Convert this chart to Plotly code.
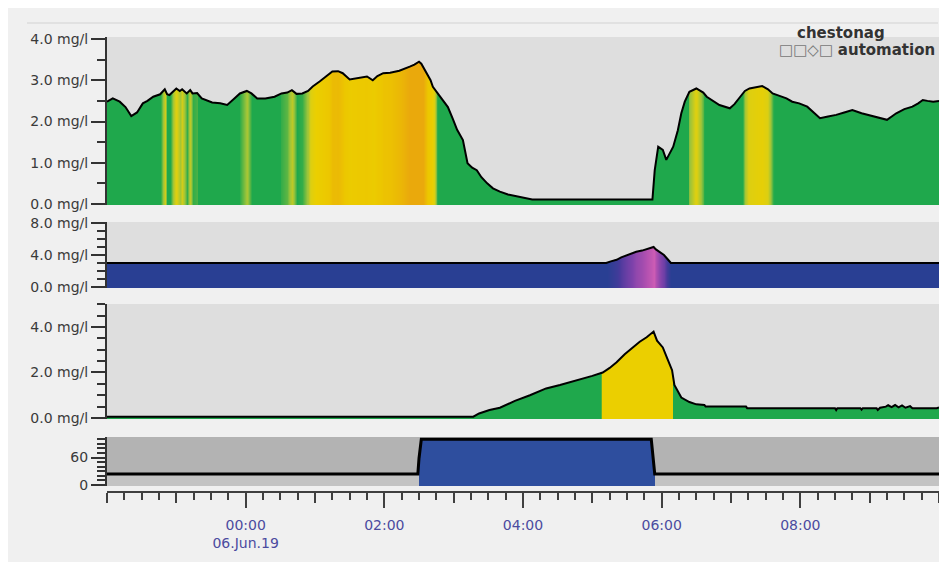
import plotly.graph_objects as go

# ---------------- data ----------------
# Panel 1: mg/l
p1_times = ["22:00", "22:05", "22:11", "22:16", "22:21", "22:26", "22:31", "22:35", "22:40", "22:46",
            "22:50", "22:52", "22:54", "22:58", "23:00", "23:03", "23:05", "23:09", "23:12", "23:14",
            "23:18", "23:22", "23:27", "23:31", "23:38", "23:44", "23:50", "23:55", "00:01", "00:05",
            "00:10", "00:17", "00:25", "00:31", "00:36", "00:40", "00:44", "00:49", "00:54", "00:58",
            "01:04", "01:10", "01:15", "01:20", "01:24", "01:30", "01:37", "01:45", "01:50", "01:54",
            "01:59", "02:05", "02:13", "02:18", "02:22", "02:26", "02:30", "02:32", "02:37", "02:40",
            "02:42", "02:46", "02:50", "02:55", "02:59", "03:03", "03:08", "03:12", "03:16", "03:20",
            "03:24", "03:29", "03:34", "03:40", "03:47", "03:55", "04:01", "04:08", "05:52", "05:54",
            "05:57", "06:01", "06:04", "06:10", "06:14", "06:17", "06:20", "06:24", "06:30", "06:36",
            "06:39", "06:44", "06:50", "06:59", "07:03", "07:08", "07:12", "07:16", "07:22", "07:27",
            "07:32", "07:36", "07:42", "07:48", "07:53", "07:59", "08:06", "08:11", "08:17", "08:24",
            "08:31", "08:38", "08:45", "08:53", "09:03", "09:09", "09:15", "09:20", "09:23", "09:30",
            "09:37", "09:42", "09:46", "09:50", "09:55", "10:00"]
p1_values = [2.48, 2.56, 2.48, 2.35, 2.13, 2.22, 2.44, 2.50, 2.60, 2.66,
             2.78, 2.66, 2.64, 2.76, 2.80, 2.74, 2.78, 2.68, 2.76, 2.68,
             2.69, 2.56, 2.50, 2.46, 2.44, 2.40, 2.55, 2.68, 2.74, 2.68,
             2.56, 2.56, 2.60, 2.68, 2.70, 2.76, 2.67, 2.68, 2.74, 2.85,
             2.97, 3.10, 3.21, 3.22, 3.17, 3.02, 3.06, 3.09, 3.00, 3.10,
             3.17, 3.18, 3.23, 3.28, 3.33, 3.38, 3.45, 3.40, 3.17, 3.00,
             2.84, 2.68, 2.52, 2.35, 2.08, 1.80, 1.55, 0.99, 0.88, 0.82,
             0.65, 0.50, 0.38, 0.30, 0.23, 0.18, 0.14, 0.11, 0.11, 0.82,
             1.39, 1.31, 1.07, 1.39, 1.79, 2.20, 2.48, 2.72, 2.80, 2.70,
             2.60, 2.50, 2.40, 2.32, 2.42, 2.60, 2.74, 2.80, 2.84, 2.86,
             2.78, 2.68, 2.62, 2.56, 2.48, 2.44, 2.36, 2.24, 2.08, 2.12,
             2.16, 2.22, 2.28, 2.20, 2.12, 2.08, 2.04, 2.14, 2.20, 2.30,
             2.36, 2.44, 2.52, 2.50, 2.48, 2.50]

# Panel 2: mg/l
p2_times = ["22:00", "05:12", "05:16", "05:21", "05:25", "05:30", "05:34", "05:38", "05:43", "05:47",
            "05:50", "05:53", "05:55", "05:58", "06:02", "06:05", "06:08", "10:00"]
p2_values = [3.0, 3.0, 3.2, 3.4, 3.7, 4.0, 4.2, 4.4, 4.55, 4.75,
             4.85, 5.0, 4.7, 4.4, 4.0, 3.5, 3.0, 3.0]

# Panel 3: mg/l
p3_times = ["22:00", "03:17", "03:22", "03:31", "03:40", "03:53", "04:06", "04:20", "04:32", "04:43",
            "04:53", "05:00", "05:09", "05:15", "05:21", "05:28", "05:35", "05:41", "05:47", "05:53",
            "05:56", "06:01", "06:05", "06:09", "06:11", "06:17", "06:24", "06:30", "06:37", "06:38",
            "07:13", "07:14", "08:30", "08:31", "08:32", "08:52", "08:53", "08:54", "09:06", "09:07",
            "09:09", "09:14", "09:16", "09:19", "09:22", "09:25", "09:28", "09:31", "09:35", "09:37",
            "09:58", "10:00"]
p3_values = [0.06, 0.06, 0.20, 0.35, 0.45, 0.75, 1.00, 1.30, 1.45, 1.60,
             1.75, 1.85, 2.00, 2.20, 2.45, 2.80, 3.10, 3.35, 3.55, 3.80,
             3.40, 3.10, 2.60, 2.10, 1.45, 0.90, 0.70, 0.60, 0.57, 0.50,
             0.50, 0.43, 0.43, 0.35, 0.43, 0.43, 0.37, 0.43, 0.43, 0.35,
             0.45, 0.50, 0.56, 0.48, 0.57, 0.47, 0.55, 0.45, 0.52, 0.43,
             0.43, 0.46]

# Panel 4: status
p4_times = ["22:00", "02:29", "02:30", "02:32", "05:51", "05:53", "05:54", "10:00"]
p4_values = [24, 24, 58, 100, 100, 55, 24, 24]

# axis ticks
x_range = ["2019-06-05 22:00", "2019-06-06 10:00"]
x_tickvals = ["2019-06-06 00:00", "2019-06-06 02:00", "2019-06-06 04:00",
              "2019-06-06 06:00", "2019-06-06 08:00"]
x_ticktext = ["00:00<br>06.Jun.19", "02:00", "04:00", "06:00", "08:00"]


def ts(hm):
    day = "2019-06-05" if int(hm[:2]) >= 12 else "2019-06-06"
    return f"{day} {hm}"


OFF = 8                      # default page margin of the html body
W, H = 947 - OFF, 562 - OFF  # figure size


def py(p):   # screen pixel row -> paper y
    return 1 - (p - OFF) / H


def pxf(p):  # screen pixel column -> paper x
    return (p - OFF) / W


GREEN = "#1fa84c"
YELLOW = "#ebcf00"
BLUE2 = "#293f93"
BLUE4 = "#2e4e9e"

panels = [
    dict(t=p1_times, v=p1_values, yr=[-0.024, 4.048], dom=(205, 37), bg="#dedede", lw=2,
         zmin=0, zmax=4, dtick=1, minor=0.5, fmt=".1f", suf=" mg/l",
         cs=[[0, GREEN], [2.67 / 4, GREEN], [2.73 / 4, "#9cc43a"], [2.79 / 4, "#dccf12"],
             [2.90 / 4, YELLOW], [3.15 / 4, "#ecc600"], [3.32 / 4, "#eaa90c"], [1, "#eaa90c"]]),
    dict(t=p2_times, v=p2_values, yr=[-0.125, 8.125], dom=(288, 222), bg="#dedede", lw=2,
         zmin=0, zmax=8, dtick=4, minor=1, fmt=".1f", suf=" mg/l",
         cs=[[0, BLUE2], [3.05 / 8, BLUE2], [3.6 / 8, "#4b3a9c"], [4.2 / 8, "#7d42aa"],
             [4.7 / 8, "#b050b0"], [5.0 / 8, "#cc5cb4"], [1, "#cc5cb4"]]),
    dict(t=p3_times, v=p3_values, yr=[-0.044, 5.01], dom=(419, 304), bg="#dedede", lw=2,
         zmin=0, zmax=5, dtick=2, minor=0.5, fmt=".1f", suf=" mg/l",
         cs=[[0, GREEN], [1.97 / 5, GREEN], [1.98 / 5, YELLOW], [1, YELLOW]]),
    dict(t=p4_times, v=p4_values, yr=[-2.2, 105], dom=(486, 437), bg="#b3b3b3", lw=3,
         zmin=0, zmax=100, dtick=60, minor=10, fmt="d", suf="",
         cs=[[0, "#c3c3c3"], [0.5, "#c3c3c3"], [0.51, BLUE4], [1, BLUE4]]),
]

fig = go.Figure()
AX = "#333333"
layout_axes = {}
for i, p in enumerate(panels, start=1):
    yname = "y" if i == 1 else f"y{i}"
    xs = [ts(t) for t in p["t"]]
    fig.add_trace(go.Heatmap(x=xs, y=p["yr"], z=[p["v"], p["v"]], zmin=p["zmin"], zmax=p["zmax"],
                             colorscale=p["cs"], zsmooth="best", showscale=False,
                             xaxis="x", yaxis=yname, hoverinfo="skip"))
    fig.add_trace(go.Scatter(x=xs, y=[p["yr"][1]] * len(xs), mode="lines", line=dict(width=0),
                             xaxis="x", yaxis=yname, hoverinfo="skip", showlegend=False))
    fig.add_trace(go.Scatter(x=xs, y=p["v"], mode="lines", fill="tonexty", fillcolor=p["bg"],
                             line=dict(color="black", width=p["lw"]),
                             xaxis="x", yaxis=yname, showlegend=False))
    key = "yaxis" if i == 1 else f"yaxis{i}"
    layout_axes[key] = dict(
        domain=[py(p["dom"][0]), py(p["dom"][1])], range=p["yr"], anchor="x",
        showline=True, linecolor=AX, linewidth=2, ticks="outside", ticklen=14, tickwidth=2,
        tickcolor=AX, tick0=0, dtick=p["dtick"], tickformat=p["fmt"], ticksuffix=p["suf"],
        tickfont=dict(size=14, color="#3a3a3a", family="DejaVu Sans"),
        minor=dict(ticks="outside", ticklen=8, tickwidth=2, tickcolor=AX, dtick=p["minor"], tick0=0),
        showgrid=False, zeroline=False, fixedrange=True)

# dummy trace so that the hour-tick overlay axis is drawn
fig.add_trace(go.Scatter(x=x_range, y=[None, None], xaxis="x2", yaxis="y4",
                         showlegend=False, hoverinfo="skip"))

xpos = py(492)
fig.update_layout(
    width=W, height=H, template="none",
    margin=dict(l=0, r=0, t=0, b=0),
    paper_bgcolor="#f0f0f0", plot_bgcolor="#dedede",
    font=dict(family="DejaVu Sans", size=14, color="#333"),
    showlegend=False,
    xaxis=dict(type="date", range=x_range, domain=[pxf(107), pxf(939)], anchor="free", position=xpos,
               showline=True, linecolor="#404040", linewidth=2, ticks="outside", ticklen=15,
               tickwidth=2, tickcolor="#404040", tickmode="array", tickvals=x_tickvals,
               ticktext=x_ticktext, ticklabelstandoff=5,
               tickfont=dict(size=14, color="#4b4b9f", family="DejaVu Sans"),
               minor=dict(ticks="outside", ticklen=7, tickwidth=1.5, tickcolor="#404040",
                          dtick=900000, tick0="2019-06-06 00:00", showgrid=False),
               showgrid=False, zeroline=False, fixedrange=True),
    xaxis2=dict(type="date", range=x_range, domain=[pxf(107), pxf(939)], overlaying="x",
                anchor="free", position=xpos, showline=False, ticks="outside", ticklen=10,
                tickwidth=1.5, tickcolor="#404040", tick0="2019-06-06 00:00", dtick=3600000,
                showticklabels=False, showgrid=False, zeroline=False, fixedrange=True),
    **layout_axes,
)

fig.add_shape(type="line", xref="paper", yref="paper", x0=pxf(27), x1=pxf(938), y0=py(23), y1=py(23),
              line=dict(color="#d2d2d2", width=1))
fig.add_shape(type="rect", xref="paper", yref="paper", x0=pxf(940), x1=1, y0=0, y1=1,
              fillcolor="white", line=dict(width=0), layer="above")

fig.add_annotation(xref="paper", yref="paper", x=pxf(795), y=py(33), xanchor="left", yanchor="middle",
                   text="<b>chestonag</b>", showarrow=False,
                   font=dict(size=15, color="#333333", family="DejaVu Sans"))
fig.add_annotation(xref="paper", yref="paper", x=pxf(777), y=py(50), xanchor="left", yanchor="middle",
                   text='<span style="color:#777777">□□◇□</span> <b>automation</b>', showarrow=False,
                   font=dict(size=15, color="#333333", family="DejaVu Sans"))

fig.write_html("out.html")
